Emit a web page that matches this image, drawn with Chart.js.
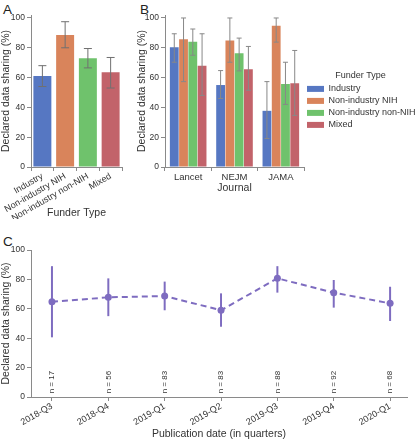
<!DOCTYPE html>
<html>
<head>
<meta charset="utf-8">
<script src="https://cdn.jsdelivr.net/npm/chart.js@4/dist/chart.umd.min.js"></script>
<style>
  html, body { margin: 0; padding: 0; background: #fff; }
  body { width: 417px; height: 440px; position: relative; overflow: hidden; font-family: "Liberation Sans", Arial, sans-serif; }
  .box { position: absolute; }
  .letter { position: absolute; font-family: "Liberation Sans", Arial, sans-serif; font-size: 13.5px; color: #222; line-height: 1; }
</style>
</head>
<body>
<div class="letter" style="left:3px;top:3px;">A</div>
<div class="letter" style="left:140px;top:3px;">B</div>
<div class="letter" style="left:3px;top:235px;">C</div>
<div class="box" style="left:0;top:0;width:140px;height:219px;"><canvas id="cA"></canvas></div>
<div class="box" style="left:136px;top:0;width:281px;height:194px;"><canvas id="cB"></canvas></div>
<div class="box" style="left:0;top:230px;width:417px;height:210px;"><canvas id="cC"></canvas></div>
<script>
// ---------- data ----------
const funderTypes = ['Industry', 'Non-industry NIH', 'Non-industry non-NIH', 'Mixed'];
const funderColors = ['#5677c2', '#d9845b', '#6fc26c', '#c2636a'];

// Panel A: declared data sharing by funder type
const panelAValues = [61, 88.5, 73, 63.5];
const panelALow    = [54, 80, 66.5, 53];
const panelAHigh   = [68, 97.5, 79.5, 73.5];

// Panel B: by journal and funder type
const journals = ['Lancet', 'NEJM', 'JAMA'];
const industryValues  = [80.4, 55, 37.7];
const industryLow     = [70.3, 46, 19.1];
const industryHigh    = [89.4, 64.7, 57.3];
const nihValues       = [85.8, 84.9, 94.8];
const nihLow          = [57.3, 70.3, 83.8];
const nihHigh         = [100, 100, 100];
const nonNihValues    = [84, 76.4, 55.7];
const nonNihLow       = [75, 64.5, 42];
const nonNihHigh      = [92.6, 86.5, 70.3];
const mixedValues     = [68, 65.6, 56.2];
const mixedLow        = [48, 51.5, 34.6];
const mixedHigh       = [89.4, 80.9, 78.2];

// Panel C: by publication quarter
const quarters = ['2018-Q3', '2018-Q4', '2019-Q1', '2019-Q2', '2019-Q3', '2019-Q4', '2020-Q1'];
const quarterValues = [64.8, 67.8, 68.7, 59, 80.7, 71, 63.7];
const quarterLow    = [40.6, 55, 59, 47.8, 71, 60.8, 51.7];
const quarterHigh   = [89, 80.7, 78.5, 70.5, 89, 79.6, 75];
const quarterN      = [17, 56, 83, 83, 88, 92, 68];
const yTicks = [0, 20, 40, 60, 80, 100];

// ---------- styling ----------
const FONT = '"Liberation Sans", Arial, sans-serif';
const AXIS = '#8a8a8a';
const TXT = '#333';
const PURPLE = '#7e6cc0';

const errorBarPlugin = {
  id: 'errbars',
  afterDatasetsDraw(chart, args, opts) {
    const ctx = chart.ctx;
    const ys = chart.scales.y;
    chart.data.datasets.forEach((ds, di) => {
      if (!ds.errLow) return;
      const meta = chart.getDatasetMeta(di);
      meta.data.forEach((el, i) => {
        const x = el.x;
        const yl = ys.getPixelForValue(ds.errLow[i]);
        const yh = ys.getPixelForValue(ds.errHigh[i]);
        ctx.save();
        ctx.strokeStyle = opts.color || '#666';
        ctx.lineWidth = opts.width || 1;
        ctx.beginPath();
        ctx.moveTo(x, yl); ctx.lineTo(x, yh);
        const c = opts.cap || 0;
        if (c) {
          ctx.moveTo(x - c, yl); ctx.lineTo(x + c, yl);
          ctx.moveTo(x - c, yh); ctx.lineTo(x + c, yh);
        }
        ctx.stroke();
        ctx.restore();
      });
    });
  }
};

const legendShiftPlugin = {
  id: 'legendShift',
  afterLayout(chart, args, opts) {
    if (chart.legend) {
      chart.legend.top += opts.dy || 0;
      chart.legend.bottom += opts.dy || 0;
    }
  }
};

const nLabelPlugin = {
  id: 'nlabels',
  afterDatasetsDraw(chart) {
    const ctx = chart.ctx;
    const xs = chart.scales.x, ys = chart.scales.y;
    ctx.save();
    ctx.fillStyle = TXT;
    ctx.font = '8px ' + FONT;
    ctx.textAlign = 'left';
    ctx.textBaseline = 'middle';
    quarterN.forEach((n, i) => {
      const x = xs.getPixelForValue(i);
      const y = ys.getPixelForValue(2.5);
      ctx.save();
      ctx.translate(x, y);
      ctx.rotate(-Math.PI / 2);
      ctx.fillText('n = ' + n, 0, 0);
      ctx.restore();
    });
    ctx.restore();
  }
};

function yScale(width, max) {
  return {
    min: 0, max: max,
    ticks: { includeBounds: false, stepSize: 20, color: TXT, font: { family: FONT, size: 8.5 }, padding: 2 },
    afterBuildTicks: s => { s.ticks = yTicks.map(v => ({ value: v })); },
    grid: { drawOnChartArea: false, drawTicks: true, tickLength: 4, color: AXIS },
    border: { display: true, color: AXIS, width: 1 },
    title: { display: true, text: 'Declared data sharing (%)', color: TXT, font: { family: FONT, size: 10.5 }, padding: { top: 0, bottom: 2 } },
    afterFit: s => { s.width = width; }
  };
}

Chart.defaults.font.family = FONT;
Chart.defaults.animation = false;

// ---------- Panel A ----------
new Chart(document.getElementById('cA'), {
  type: 'bar',
  data: {
    labels: funderTypes,
    datasets: [{
      data: panelAValues,
      errLow: panelALow, errHigh: panelAHigh,
      backgroundColor: funderColors,
      borderWidth: 0,
      barPercentage: 0.79, categoryPercentage: 1
    }]
  },
  options: {
    responsive: true, maintainAspectRatio: false,
    layout: { padding: { top: 15, right: 18, left: 0, bottom: 0 } },
    plugins: { legend: { display: false }, tooltip: { enabled: false }, errbars: { color: '#707070', width: 1, cap: 4 } },
    scales: {
      x: {
        ticks: { color: TXT, font: { family: FONT, size: 9 }, minRotation: 30, maxRotation: 30, padding: 0, autoSkip: false },
        grid: { drawOnChartArea: false, drawTicks: true, tickLength: 4, color: AXIS },
        border: { display: true, color: AXIS, width: 1 },
        title: { display: true, text: 'Funder Type', color: TXT, font: { family: FONT, size: 10.5 }, padding: { top: 0, bottom: 0 } },
        afterFit: s => { s.height = 52; }
      },
      y: yScale(31, 102)
    }
  },
  plugins: [errorBarPlugin]
});

// ---------- Panel B ----------
const bSeries = [
  [industryValues, industryLow, industryHigh],
  [nihValues, nihLow, nihHigh],
  [nonNihValues, nonNihLow, nonNihHigh],
  [mixedValues, mixedLow, mixedHigh]
];
new Chart(document.getElementById('cB'), {
  type: 'bar',
  data: {
    labels: journals,
    datasets: bSeries.map((s, i) => ({
      label: funderTypes[i],
      data: s[0], errLow: s[1], errHigh: s[2],
      backgroundColor: funderColors[i],
      borderWidth: 0,
      barPercentage: 0.95, categoryPercentage: 0.8
    }))
  },
  options: {
    responsive: true, maintainAspectRatio: false,
    layout: { padding: { top: 15, right: 0, left: 0, bottom: 0 } },
    plugins: {
      tooltip: { enabled: false },
      errbars: { color: '#888', width: 1, cap: 2.5 },
      legendShift: { dy: -3 },
      legend: {
        position: 'right', align: 'center', maxWidth: 113,
        title: { display: true, text: 'Funder Type', color: TXT, font: { family: FONT, size: 9 }, padding: { top: 0, bottom: 0 } },
        labels: { color: TXT, font: { family: FONT, size: 9 }, boxWidth: 17, boxHeight: 6, padding: 3 }
      }
    },
    scales: {
      x: {
        ticks: { color: TXT, font: { family: FONT, size: 9.5 }, padding: 1 },
        grid: { drawOnChartArea: false, drawTicks: true, tickLength: 4, color: AXIS },
        border: { display: true, color: AXIS, width: 1 },
        title: { display: true, text: 'Journal', color: TXT, font: { family: FONT, size: 10.5 }, padding: { top: 0, bottom: 0 } },
        afterFit: s => { s.height = 27; }
      },
      y: yScale(29, 102)
    }
  },
  plugins: [errorBarPlugin, legendShiftPlugin]
});

// ---------- Panel C ----------
new Chart(document.getElementById('cC'), {
  type: 'line',
  data: {
    datasets: [{
      data: quarterValues.map((v, i) => ({ x: i, y: v })),
      errLow: quarterLow, errHigh: quarterHigh,
      borderColor: PURPLE, backgroundColor: PURPLE,
      borderWidth: 2, borderDash: [6, 4],
      pointRadius: 3.5, pointBackgroundColor: PURPLE, pointBorderWidth: 0,
      tension: 0
    }]
  },
  options: {
    responsive: true, maintainAspectRatio: false,
    layout: { padding: { top: 20, right: 10, left: 0, bottom: 0 } },
    plugins: { legend: { display: false }, tooltip: { enabled: false }, errbars: { color: PURPLE, width: 2, cap: 0 } },
    scales: {
      x: {
        type: 'linear', min: -0.372, max: 6.3,
        afterBuildTicks: s => { s.ticks = quarters.map((q, i) => ({ value: i })); },
        ticks: { color: TXT, font: { family: FONT, size: 9 }, minRotation: 30, maxRotation: 30, padding: 0, autoSkip: false,
                 callback: v => quarters[v] },
        grid: { drawOnChartArea: false, drawTicks: true, tickLength: 4, color: AXIS },
        border: { display: true, color: AXIS, width: 1 },
        title: { display: true, text: 'Publication date (in quarters)', color: TXT, font: { family: FONT, size: 10.5 }, padding: { top: 0, bottom: 0 } },
        afterFit: s => { s.height = 43; }
      },
      y: yScale(31, 100)
    }
  },
  plugins: [errorBarPlugin, nLabelPlugin]
});
</script>
</body>
</html>
